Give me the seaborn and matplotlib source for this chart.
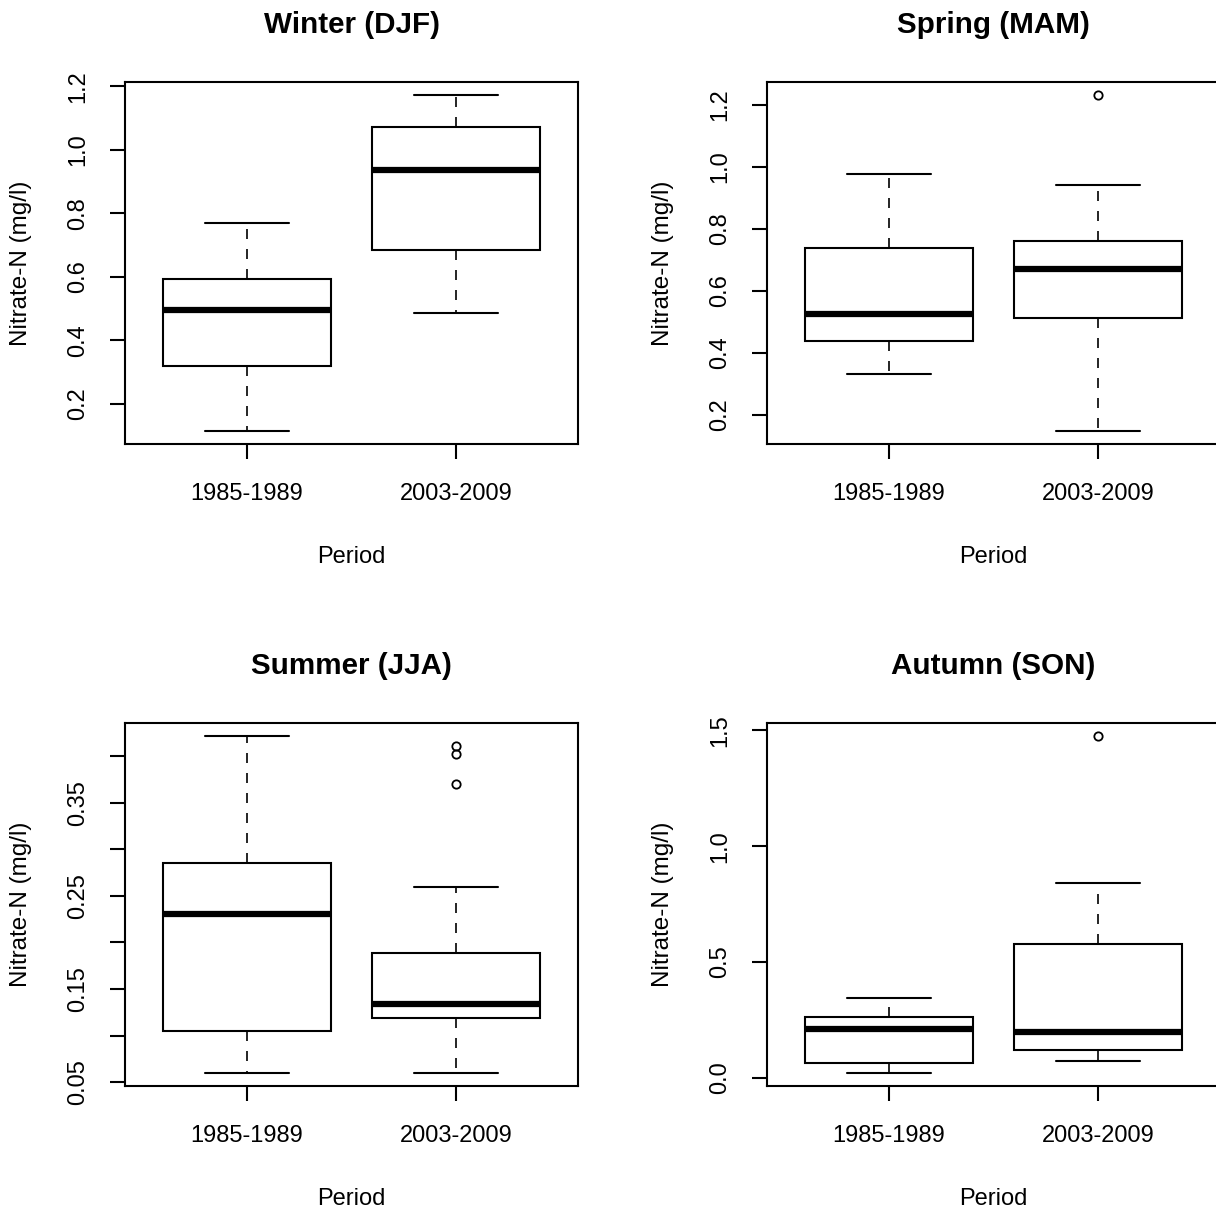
import matplotlib
matplotlib.use("Agg")
import matplotlib.pyplot as plt
import seaborn as sns
import numpy as np

# ---------------- data ----------------
periods = ["1985-1989", "2003-2009"]

titles = ["Winter (DJF)", "Spring (MAM)", "Summer (JJA)", "Autumn (SON)"]

# five-number summaries per period: [lower whisker, Q1, median, Q3, upper whisker]
winter_1985 = [0.116, 0.320, 0.494, 0.594, 0.769]
winter_2003 = [0.487, 0.685, 0.936, 1.072, 1.171]
winter_out_1985 = []
winter_out_2003 = []

spring_1985 = [0.334, 0.438, 0.525, 0.739, 0.979]
spring_2003 = [0.150, 0.513, 0.672, 0.763, 0.942]
spring_out_1985 = []
spring_out_2003 = [1.231]

summer_1985 = [0.0604, 0.105, 0.230, 0.285, 0.421]
summer_2003 = [0.0604, 0.119, 0.134, 0.189, 0.259]
summer_out_1985 = []
summer_out_2003 = [0.411, 0.402, 0.370]

autumn_1985 = [0.023, 0.063, 0.213, 0.262, 0.344]
autumn_2003 = [0.072, 0.121, 0.196, 0.576, 0.841]
autumn_out_1985 = []
autumn_out_2003 = [1.474]

winter_ticks = [0.2, 0.4, 0.6, 0.8, 1.0, 1.2]
winter_ticklabels = ["0.2", "0.4", "0.6", "0.8", "1.0", "1.2"]
spring_ticks = [0.2, 0.4, 0.6, 0.8, 1.0, 1.2]
spring_ticklabels = ["0.2", "0.4", "0.6", "0.8", "1.0", "1.2"]
summer_ticks = [0.05, 0.10, 0.15, 0.20, 0.25, 0.30, 0.35, 0.40]
summer_ticklabels = ["0.05", "", "0.15", "", "0.25", "", "0.35", ""]
autumn_ticks = [0.0, 0.5, 1.0, 1.5]
autumn_ticklabels = ["0.0", "0.5", "1.0", "1.5"]

ylabel = "Nitrate-N (mg/l)"
xlabel = "Period"

# ---------------- style ----------------
sns.set_theme(style="ticks")
plt.rcParams["font.family"] = ["Liberation Sans", "DejaVu Sans"]
plt.rcParams["axes.linewidth"] = 1.5
plt.rcParams["axes.edgecolor"] = "black"
plt.rcParams["text.color"] = "black"
plt.rcParams["axes.labelcolor"] = "black"
plt.rcParams["xtick.color"] = "black"
plt.rcParams["ytick.color"] = "black"

W, H = 1216, 1211
fig = plt.figure(figsize=(W / 100, H / 100), dpi=100)
fig.patch.set_facecolor("white")


def px_axes(left, top, right, bottom):
    return fig.add_axes([left / W, 1 - bottom / H, (right - left) / W, (bottom - top) / H])


def make_stats(summary, fliers, label):
    lo, q1, med, q3, hi = summary
    return dict(whislo=lo, q1=q1, med=med, q3=q3, whishi=hi, fliers=np.array(fliers), label=label)


panels = [
    (titles[0], (125, 82, 578, 444), winter_1985, winter_2003, winter_out_1985, winter_out_2003,
     winter_ticks, winter_ticklabels),
    (titles[1], (767, 82, 1220, 444), spring_1985, spring_2003, spring_out_1985, spring_out_2003,
     spring_ticks, spring_ticklabels),
    (titles[2], (125, 723, 578, 1086), summer_1985, summer_2003, summer_out_1985, summer_out_2003,
     summer_ticks, summer_ticklabels),
    (titles[3], (767, 723, 1220, 1086), autumn_1985, autumn_2003, autumn_out_1985, autumn_out_2003,
     autumn_ticks, autumn_ticklabels),
]

FS = 17
for title, box, s1, s2, o1, o2, yt, ytl in panels:
    left, top, right, bottom = box
    ax = px_axes(left, top, right, bottom)
    ax.set_facecolor("white")
    stats = [make_stats(s1, o1, periods[0]), make_stats(s2, o2, periods[1])]
    ax.bxp(stats, positions=[1, 2], widths=0.8, patch_artist=True,
           boxprops=dict(facecolor="white", edgecolor="black", linewidth=1.5),
           medianprops=dict(color="black", linewidth=4.5, solid_capstyle="butt"),
           whiskerprops=dict(color="black", linewidth=1.2, linestyle=(0, (6, 6))),
           capprops=dict(color="black", linewidth=1.5),
           flierprops=dict(marker="o", markerfacecolor="none", markeredgecolor="black",
                           markersize=6, markeredgewidth=1.3, linestyle="none"))
    vals = list(s1) + list(s2) + list(o1) + list(o2)
    lo, hi = min(vals), max(vals)
    r = hi - lo
    ax.set_ylim(lo - 0.04 * r, hi + 0.04 * r)
    ax.set_xlim(0.42, 2.58)
    ax.set_xticks([1, 2])
    ax.set_xticklabels(periods)
    ax.set_yticks(yt)
    ax.set_yticklabels(ytl, rotation=90, va="center")
    ax.tick_params(axis="both", direction="out", length=11, width=1.5, labelsize=FS,
                   colors="black")
    ax.tick_params(axis="x", pad=17)
    ax.tick_params(axis="y", pad=15)
    for sp in ax.spines.values():
        sp.set_visible(True)
        sp.set_linewidth(1.5)
        sp.set_color("black")
    cx = (left + right) / 2
    fig.text(cx / W, 1 - (top - 57) / H, title, ha="center", va="center",
             fontsize=21.3, fontweight="bold", color="black")
    ax.set_xlabel(xlabel, fontsize=FS, color="black")
    ax.xaxis.set_label_coords(cx / W, 1 - (bottom + 113) / H, transform=fig.transFigure)
    ax.xaxis.label.set_va("center")
    ax.set_ylabel(ylabel, fontsize=17.5, color="black")
    ax.yaxis.set_label_coords((left - 104) / W, 1 - ((top + bottom) / 2) / H,
                              transform=fig.transFigure)
    ax.yaxis.label.set_va("center")
    ax.yaxis.label.set_ha("center")

fig.savefig("out.png", dpi=100, facecolor="white")
